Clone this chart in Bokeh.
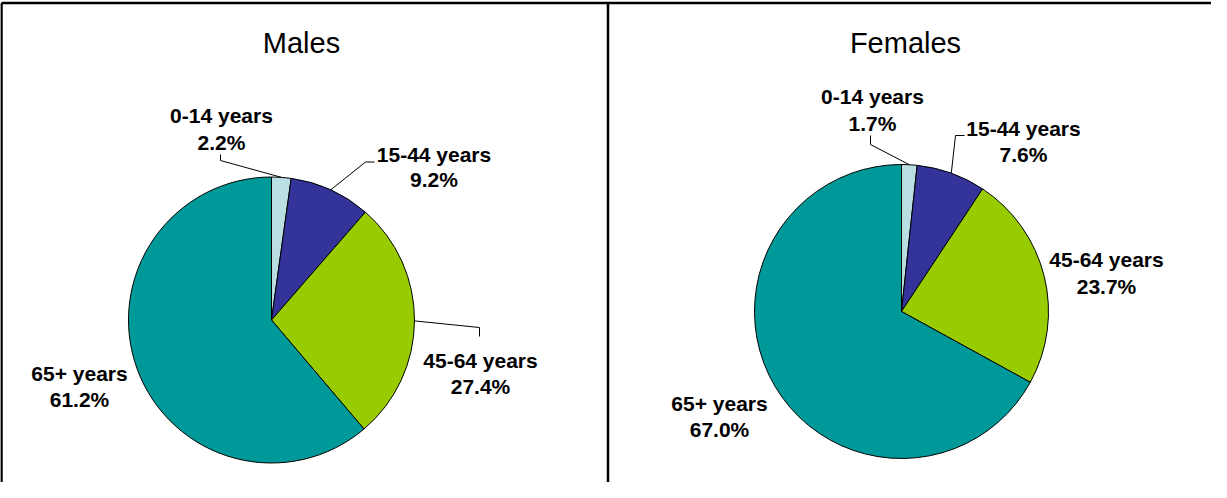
import math
from bokeh.plotting import figure
from bokeh.models import Range1d
from bokeh.core.properties import value
from bokeh.embed import file_html
from bokeh.resources import INLINE

# ---- data ----
categories = ["0-14 years", "15-44 years", "45-64 years", "65+ years"]
males_values = [2.2, 9.2, 27.4, 61.2]
females_values = [1.7, 7.6, 23.7, 67.0]
panel_titles = ["Males", "Females"]
colors = ["#B9DFE3", "#333399", "#99CC00", "#009999"]

# ---- layout (screen pixel coordinates; data y = -screen y) ----
W, H = 1211, 482
FONT = value("Liberation Sans")

panels = [
    dict(title=panel_titles[0], values=males_values, cx=279, cy=327.5, r=143, tx=309, ty=50,
         labels=[(229, 123, 150), (441.5, 162, 187), (488, 368, 394), (87, 381, 407)],
         leaders=[[(228, 162), (228, 168)], [(382, 169.5), (373, 169.5)],
                  [(487, 344), (487, 335)], None]),
    dict(title=panel_titles[1], values=females_values, cx=909, cy=319, r=147, tx=913, ty=50,
         labels=[(880, 104, 131), (1031, 136, 162), (1114, 267, 294), (727, 411, 437)],
         leaders=[[(878, 143), (878, 152)], [(972, 143), (963, 143)], None, None]),
]

p = figure(width=W, height=H, output_backend="svg", toolbar_location=None,
           x_range=Range1d(8, 8 + W), y_range=Range1d(-(8 + H), -8),
           min_border=0)
p.axis.visible = False
p.grid.visible = False
p.outline_line_color = None
p.background_fill_color = "white"
p.border_fill_color = "white"

# frame lines
p.line(x=[9, 8 + W], y=[-10.5, -10.5], line_color="black", line_width=2.5)
p.line(x=[9, 9], y=[-10.5, -(8 + H)], line_color="black", line_width=2.5)
p.line(x=[615.5, 615.5], y=[-10.5, -(8 + H)], line_color="black", line_width=2.5)

for pan in panels:
    vals = pan["values"]
    total = sum(vals)
    cum = 0.0
    starts, ends, mids = [], [], []
    for v in vals:
        c0 = cum / total
        cum += v
        c1 = cum / total
        starts.append(math.pi / 2 - 2 * math.pi * c0)
        ends.append(math.pi / 2 - 2 * math.pi * c1)
        mids.append(math.pi / 2 - 2 * math.pi * (c0 + c1) / 2)
    n = len(vals)
    p.wedge(x=[pan["cx"]] * n, y=[-pan["cy"]] * n, radius=pan["r"],
            start_angle=starts, end_angle=ends, direction="clock",
            fill_color=colors, line_color="black", line_width=1)

    # leader lines
    xs, ys = [], []
    for i, ld in enumerate(pan["leaders"]):
        if ld is None:
            continue
        ex = pan["cx"] + pan["r"] * math.cos(mids[i])
        ey = pan["cy"] - pan["r"] * math.sin(mids[i])
        pts = ld + [(ex, ey)]
        xs.append([q[0] for q in pts])
        ys.append([-q[1] for q in pts])
    if xs:
        p.multi_line(xs=xs, ys=ys, line_color="black", line_width=1)

    # labels
    lx = [l[0] for l in pan["labels"]]
    p.text(x=lx, y=[-l[1] for l in pan["labels"]], text=categories,
           text_font=FONT, text_font_style="bold", text_font_size="21px",
           text_align="center", text_baseline="alphabetic", text_color="black")
    p.text(x=lx, y=[-l[2] for l in pan["labels"]], text=[f"{v:.1f}%" for v in vals],
           text_font=FONT, text_font_style="bold", text_font_size="21px",
           text_align="center", text_baseline="alphabetic", text_color="black")

    # title
    p.text(x=[pan["tx"]], y=[-pan["ty"]], text=[pan["title"]],
           text_font=FONT, text_font_size="29px",
           text_align="center", text_baseline="alphabetic", text_color="black")

open("out.html", "w").write(file_html(p, INLINE))
